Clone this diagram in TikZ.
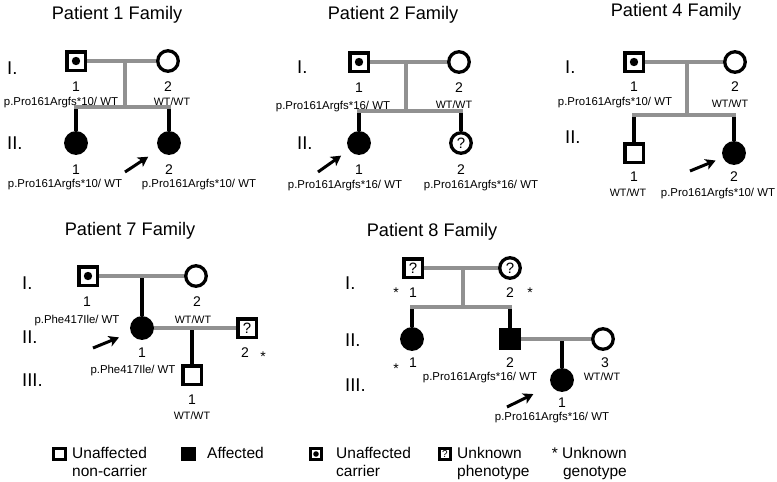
\documentclass[tikz,border=0pt]{standalone}
\usepackage{fontspec}
\setmainfont{Liberation Sans}
\usetikzlibrary{arrows.meta}

\pgfdeclarelayer{background}
\pgfsetlayers{background,main}
\definecolor{lineGray}{RGB}{145,145,145}
\tikzstyle{maleSym} = [draw, line width=3.6pt, minimum size=18.6pt, inner sep=0pt, fill=white, font=\fontsize{15}{15}\selectfont]
\tikzstyle{femaleSym} = [draw, circle, line width=3.3pt, minimum size=20.5pt, inner sep=0pt, fill=white, font=\fontsize{15}{15}\selectfont]
\tikzstyle{affected} = [fill=black]
\tikzstyle{carrierDot} = [path picture={\fill[black] (path picture bounding box.center) circle (4.2pt);}]
\tikzstyle{carrierDotSmall} = [path picture={\fill[black] (path picture bounding box.center) circle (2.8pt);}]
\tikzstyle{legendSym} = [maleSym, minimum size=11.5pt, line width=2.6pt, font=\fontsize{10}{10}\selectfont]
\tikzstyle{numText} = [inner sep=0pt, font=\fontsize{14}{14}\selectfont]
\tikzstyle{starText} = [inner sep=0pt, anchor=north, font=\fontsize{14}{14}\selectfont]
\tikzstyle{genoText} = [inner sep=0pt, font=\fontsize{11.4}{12}\selectfont]
\tikzstyle{wtText} = [inner sep=0pt, font=\fontsize{10.7}{11}\selectfont]
\tikzstyle{genText} = [inner sep=0pt, anchor=west, font=\fontsize{18.5}{19}\selectfont]
\tikzstyle{titleText} = [inner sep=0pt, font=\fontsize{18.2}{19}\selectfont]
\tikzstyle{legendText} = [inner sep=0pt, font=\fontsize{15.5}{18.4}\selectfont]
\tikzstyle{mateLine} = [draw, lineGray, line width=3.5pt, line cap=rect]
\tikzstyle{descentLine} = [draw, black, line width=3.2pt]
\tikzstyle{probandArrow} = [draw, line width=3pt, -{Stealth[length=10pt,width=11pt,inset=2.5pt]}]

\begin{document}
\begin{tikzpicture}[x=1pt, y=-1pt]
	\useasboundingbox (0,0) rectangle (777,482);

	% Patient 1
	\path (117,15) node (titleOne) [titleText] {Patient 1 Family};
	\path (7,68) node (genOneI) [genText] {I.};
	\path (7,143) node (genOneII) [genText] {II.};
	\path (76,61) node (pOneA) [maleSym, carrierDot] {};
	\path (168,61) node (pOneB) [femaleSym] {};
	\path (76,143) node (pOneC) [femaleSym, affected] {};
	\path (169,143) node (pOneD) [femaleSym, affected] {};
	\path (pOneA)+(0,26) node (pOneAnum) [numText] {1};
	\path (pOneA)+(-15,42) node (pOneAgeno) [genoText] {p.Pro161Argfs*10/ WT};
	\path (pOneB)+(0,26) node (pOneBnum) [numText] {2};
	\path (pOneB)+(4,41) node (pOneBgeno) [wtText] {WT/WT};
	\path (pOneC)+(0,27) node (pOneCnum) [numText] {1};
	\path (pOneC)+(-11,42) node (pOneCgeno) [genoText] {p.Pro161Argfs*10/ WT};
	\path (pOneD)+(0,27) node (pOneDnum) [numText] {2};
	\path (pOneD)+(30,42) node (pOneDgeno) [genoText] {p.Pro161Argfs*10/ WT};
	\coordinate (pOneMate) at (125,61);
	\coordinate (pOneSib) at (125,107);
	\path (pOneC |- pOneSib) coordinate (pOneSibL);
	\path (pOneD |- pOneSib) coordinate (pOneSibR);
	\coordinate (pOneArrow) at (125,172);

	% Patient 2
	\path (393,15) node (titleTwo) [titleText] {Patient 2 Family};
	\path (297,67) node (genTwoI) [genText] {I.};
	\path (297,143) node (genTwoII) [genText] {II.};
	\path (359,62) node (pTwoA) [maleSym, carrierDot] {};
	\path (459,62) node (pTwoB) [femaleSym] {};
	\path (359,143) node (pTwoC) [femaleSym, affected] {};
	\path (461,143) node (pTwoD) [femaleSym] {?};
	\path (pTwoA)+(0,26) node (pTwoAnum) [numText] {1};
	\path (pTwoA)+(-26,45) node (pTwoAgeno) [genoText] {p.Pro161Argfs*16/ WT};
	\path (pTwoB)+(0,26) node (pTwoBnum) [numText] {2};
	\path (pTwoB)+(-5,43) node (pTwoBgeno) [wtText] {WT/WT};
	\path (pTwoC)+(0,27) node (pTwoCnum) [numText] {1};
	\path (pTwoC)+(-14,43) node (pTwoCgeno) [genoText] {p.Pro161Argfs*16/ WT};
	\path (pTwoD)+(0,27) node (pTwoDnum) [numText] {2};
	\path (pTwoD)+(20,43) node (pTwoDgeno) [genoText] {p.Pro161Argfs*16/ WT};
	\coordinate (pTwoMate) at (406,62);
	\coordinate (pTwoSib) at (406,111);
	\path (pTwoC |- pTwoSib) coordinate (pTwoSibL);
	\path (pTwoD |- pTwoSib) coordinate (pTwoSibR);
	\coordinate (pTwoArrow) at (318,172);

	% Patient 4
	\path (676,12) node (titleFour) [titleText] {Patient 4 Family};
	\path (565,67) node (genFourI) [genText] {I.};
	\path (565,137) node (genFourII) [genText] {II.};
	\path (634,62) node (pFourA) [maleSym, carrierDot] {};
	\path (735,62) node (pFourB) [femaleSym] {};
	\path (634,153) node (pFourC) [maleSym] {};
	\path (734,153) node (pFourD) [femaleSym, affected] {};
	\path (pFourA)+(0,25) node (pFourAnum) [numText] {1};
	\path (pFourA)+(-19,41) node (pFourAgeno) [genoText] {p.Pro161Argfs*10/ WT};
	\path (pFourB)+(0,25) node (pFourBnum) [numText] {2};
	\path (pFourB)+(-5,42) node (pFourBgeno) [wtText] {WT/WT};
	\path (pFourC)+(0,24) node (pFourCnum) [numText] {1};
	\path (pFourC)+(-6,40) node (pFourCgeno) [wtText] {WT/WT};
	\path (pFourD)+(0,24) node (pFourDnum) [numText] {2};
	\path (pFourD)+(-16,41) node (pFourDgeno) [genoText] {p.Pro161Argfs*10/ WT};
	\coordinate (pFourMate) at (687,62);
	\coordinate (pFourSib) at (687,115);
	\path (pFourC |- pFourSib) coordinate (pFourSibL);
	\path (pFourD |- pFourSib) coordinate (pFourSibR);
	\coordinate (pFourArrow) at (690,171);

	% Patient 7
	\path (130,231) node (titleSeven) [titleText] {Patient 7 Family};
	\path (22,283) node (genSevenI) [genText] {I.};
	\path (22,337) node (genSevenII) [genText] {II.};
	\path (22,380) node (genSevenIII) [genText] {III.};
	\path (88,276) node (pSevenA) [maleSym, carrierDot] {};
	\path (196,276) node (pSevenB) [femaleSym] {};
	\path (142,328) node (pSevenC) [femaleSym, affected] {};
	\path (247,328) node (pSevenD) [maleSym] {?};
	\path (192,375) node (pSevenE) [maleSym] {};
	\path (pSevenA)+(-1,26) node (pSevenAnum) [numText] {1};
	\path (pSevenA)+(-11,45) node (pSevenAgeno) [genoText] {p.Phe417Ile/ WT};
	\path (pSevenB)+(1,26) node (pSevenBnum) [numText] {2};
	\path (pSevenB)+(-3,44) node (pSevenBgeno) [wtText] {WT/WT};
	\path (pSevenC)+(0,25) node (pSevenCnum) [numText] {1};
	\path (pSevenC)+(-9,43) node (pSevenCgeno) [genoText] {p.Phe417Ile/ WT};
	\path (pSevenD)+(-2,25) node (pSevenDnum) [numText] {2};
	\path (pSevenD)+(16,24) node (pSevenDstar) [starText] {*};
	\path (pSevenE)+(0,25) node (pSevenEnum) [numText] {1};
	\path (pSevenE)+(0,41) node (pSevenEgeno) [wtText] {WT/WT};
	\path (pSevenC |- pSevenA) coordinate (pSevenMate);
	\path (pSevenE |- pSevenC) coordinate (pSevenMateTwo);
	\coordinate (pSevenArrow) at (93,348);

	% Patient 8
	\path (432,232) node (titleEight) [titleText] {Patient 8 Family};
	\path (345,283) node (genEightI) [genText] {I.};
	\path (345,340) node (genEightII) [genText] {II.};
	\path (345,385) node (genEightIII) [genText] {III.};
	\path (413,268) node (pEightA) [maleSym] {?};
	\path (510,268) node (pEightB) [femaleSym] {?};
	\path (412,339) node (pEightC) [femaleSym, affected] {};
	\path (510,339) node (pEightD) [maleSym, affected] {};
	\path (603,339) node (pEightE) [femaleSym] {};
	\path (562,380) node (pEightF) [femaleSym, affected] {};
	\path (pEightA)+(0,25) node (pEightAnum) [numText] {1};
	\path (pEightA)+(-17,20) node (pEightAstar) [starText] {*};
	\path (pEightB)+(0,25) node (pEightBnum) [numText] {2};
	\path (pEightB)+(20,20) node (pEightBstar) [starText] {*};
	\path (pEightC)+(1,24) node (pEightCnum) [numText] {1};
	\path (pEightC)+(-16,25) node (pEightCstar) [starText] {*};
	\path (pEightD)+(0,24) node (pEightDnum) [numText] {2};
	\path (pEightD)+(-30,39) node (pEightDgeno) [genoText] {p.Pro161Argfs*16/ WT};
	\path (pEightE)+(2,24) node (pEightEnum) [numText] {3};
	\path (pEightE)+(-1,38) node (pEightEgeno) [wtText] {WT/WT};
	\path (pEightF)+(0,23) node (pEightFnum) [numText] {1};
	\path (pEightF)+(-10,38) node (pEightFgeno) [genoText] {p.Pro161Argfs*16/ WT};
	\coordinate (pEightMate) at (463,268);
	\coordinate (pEightSib) at (463,307);
	\path (pEightC |- pEightSib) coordinate (pEightSibL);
	\path (pEightD |- pEightSib) coordinate (pEightSibR);
	\path (pEightF |- pEightD) coordinate (pEightMateTwo);
	\coordinate (pEightArrow) at (507,407);

	% Legend
	\path (59.5,454) node (legUnaff) [legendSym] {};
	\path (72,447) node (legUnaffText) [legendText, anchor=north west, align=left] {Unaffected\\non-carrier};
	\path (188.5,454) node (legAff) [legendSym, affected] {};
	\path (207,447) node (legAffText) [legendText, anchor=north west] {Affected};
	\path (316,454) node (legCarrier) [legendSym, carrierDotSmall] {};
	\path (336,447) node (legCarrierText) [legendText, anchor=north west, align=left] {Unaffected\\carrier};
	\path (445,454) node (legUnknown) [legendSym] {?};
	\path (457,447) node (legUnknownText) [legendText, anchor=north west, align=left] {Unknown\\phenotype};
	\path (627,447) node (legGenoText) [legendText, anchor=north east, align=right] {* Unknown\\genotype};

	\begin{pgfonlayer}{background}
		% black lines first, grey lines on top
		\path [descentLine] (pOneSibL) -- (pOneC);
		\path [descentLine] (pOneSibR) -- (pOneD);
		\path [descentLine] (pTwoSibL) -- (pTwoC);
		\path [descentLine] (pTwoSibR) -- (pTwoD);
		\path [descentLine] (pFourSibL) -- (pFourC);
		\path [descentLine] (pFourSibR) -- (pFourD);
		\path [descentLine] (pSevenMate) -- (pSevenC);
		\path [descentLine] (pSevenMateTwo) -- (pSevenE);
		\path [descentLine] (pEightSibL) -- (pEightC);
		\path [descentLine] (pEightSibR) -- (pEightD);
		\path [descentLine] (pEightMateTwo) -- (pEightF);

		\path [mateLine] (pOneA) -- (pOneB);
		\path [mateLine] (pOneMate) -- (pOneSib);
		\path [mateLine] (pOneSibL) -- (pOneSibR);
		\path [mateLine] (pTwoA) -- (pTwoB);
		\path [mateLine] (pTwoMate) -- (pTwoSib);
		\path [mateLine] (pTwoSibL) -- (pTwoSibR);
		\path [mateLine] (pFourA) -- (pFourB);
		\path [mateLine] (pFourMate) -- (pFourSib);
		\path [mateLine] (pFourSibL) -- (pFourSibR);
		\path [mateLine] (pSevenA) -- (pSevenB);
		\path [mateLine] (pSevenC) -- (pSevenD);
		\path [mateLine] (pEightA) -- (pEightB);
		\path [mateLine] (pEightMate) -- (pEightSib);
		\path [mateLine] (pEightSibL) -- (pEightSibR);
		\path [mateLine] (pEightD) -- (pEightE);
	\end{pgfonlayer}

	% proband arrows
	\path [probandArrow, shorten >=13pt] (pOneArrow) -- (pOneD);
	\path [probandArrow, shorten >=10pt] (pTwoArrow) -- (pTwoC);
	\path [probandArrow, shorten >=8pt] (pFourArrow) -- (pFourD);
	\path [probandArrow, shorten >=13pt] (pSevenArrow) -- (pSevenC);
	\path [probandArrow, shorten >=20pt] (pEightArrow) -- (pEightF);
\end{tikzpicture}
\end{document}
